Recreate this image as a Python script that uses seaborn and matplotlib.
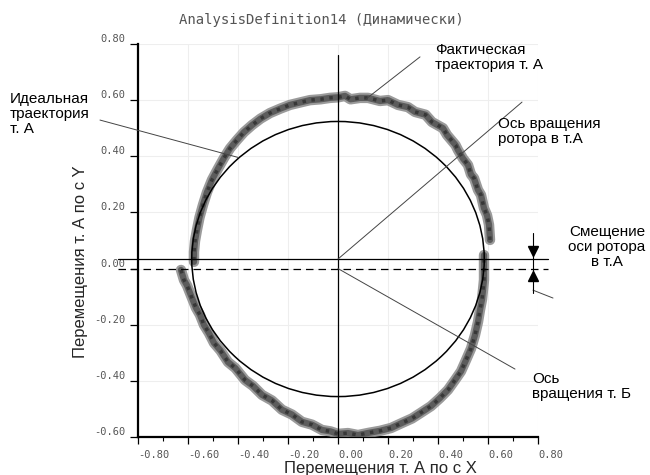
import matplotlib
matplotlib.use("Agg")
import matplotlib.pyplot as plt
import seaborn as sns
import pandas as pd
from matplotlib.patches import Ellipse

# ---------------- data ----------------
title = "AnalysisDefinition14 (Динамически)"
x_label = "Перемещения т. А по с X"
y_label = "Перемещения т. А по с Y"
x_ticks = [-0.8, -0.6, -0.4, -0.2, 0.0, 0.2, 0.4, 0.6, 0.8]
y_ticks = [-0.6, -0.4, -0.2, 0.0, 0.2, 0.4, 0.6, 0.8]

# actual trajectory (upper arc, right end -> left end)
upper_x = [0.608, 0.604, 0.596, 0.584, 0.572, 0.560, 0.544, 0.532, 0.520, 0.500,
           0.480, 0.470, 0.436, 0.420, 0.376, 0.350, 0.308, 0.280, 0.240, 0.200,
           0.168, 0.120, 0.088, 0.050, 0.028, 0.000, -0.032, -0.070, -0.112,
           -0.150, -0.192, -0.230, -0.272, -0.310, -0.344, -0.376, -0.404, -0.432,
           -0.456, -0.480, -0.504, -0.524, -0.540, -0.554, -0.564, -0.572, -0.576,
           -0.576]
upper_y = [0.102, 0.156, 0.190, 0.215, 0.262, 0.280, 0.322, 0.335, 0.369, 0.392,
           0.422, 0.440, 0.476, 0.500, 0.522, 0.548, 0.558, 0.575, 0.583, 0.600,
           0.597, 0.608, 0.608, 0.603, 0.615, 0.610, 0.608, 0.603, 0.600, 0.592,
           0.583, 0.570, 0.554, 0.534, 0.511, 0.486, 0.458, 0.428, 0.394, 0.356,
           0.316, 0.272, 0.227, 0.182, 0.138, 0.098, 0.059, 0.024]
# actual trajectory (lower arc, left end -> right end)
lower_x = [-0.628, -0.616, -0.604, -0.592, -0.568, -0.552, -0.536, -0.516, -0.496,
           -0.470, -0.440, -0.410, -0.372, -0.340, -0.304, -0.264, -0.224, -0.184,
           -0.144, -0.104, -0.064, -0.030, 0.000, 0.040, 0.080, 0.124, 0.168, 0.212,
           0.256, 0.296, 0.336, 0.372, 0.408, 0.440, 0.468, 0.492, 0.512, 0.532,
           0.548, 0.560, 0.568, 0.576, 0.580, 0.584, 0.584]
lower_y = [-0.005, -0.041, -0.060, -0.087, -0.140, -0.165, -0.201, -0.230, -0.265,
           -0.292, -0.333, -0.355, -0.397, -0.418, -0.450, -0.470, -0.503, -0.520,
           -0.546, -0.556, -0.575, -0.580, -0.589, -0.586, -0.593, -0.585, -0.578,
           -0.568, -0.550, -0.534, -0.511, -0.490, -0.461, -0.432, -0.397, -0.366,
           -0.326, -0.285, -0.237, -0.190, -0.147, -0.110, -0.076, -0.040, 0.048]

# ideal trajectory (ellipse in data units)
ideal_center = (0.0, 0.034)
ideal_width = 1.17
ideal_height = 0.98

rotor_axis_y = 0.034   # solid line: rotor axis at point A
axis_b_y = 0.0         # dashed line: rotation axis of point B
line_x_extent = [-0.88, 0.84]

# ---------------- figure ----------------
sns.set_theme(style="white")
plt.rcParams["font.family"] = ["Liberation Sans", "DejaVu Sans"]

fig = plt.figure(figsize=(6.5, 4.75), dpi=100)
ax = fig.add_axes([0.2123, 0.08, 0.6154, 0.8274])
ax.set_xlim(-0.8, 0.8)
ax.set_ylim(-0.6, 0.8)

# grid
for t in x_ticks[1:]:
    ax.axvline(t, color="#eeeeee", lw=0.8, zorder=0)
for t in y_ticks[1:]:
    ax.axhline(t, color="#eeeeee", lw=0.8, zorder=0)

# actual trajectory: thick noisy grey band
for xs, ys in [(upper_x, upper_y), (lower_x, lower_y)]:
    df = pd.DataFrame({"x": xs, "y": ys})
    sns.lineplot(data=df, x="x", y="y", sort=False, estimator=None, ax=ax,
                 color="#8a8a8a", lw=7.5, alpha=0.85, zorder=3)
    sns.lineplot(data=df, x="x", y="y", sort=False, estimator=None, ax=ax,
                 color="#555555", lw=4.5, alpha=0.9, zorder=3)
    sns.lineplot(data=df, x="x", y="y", sort=False, estimator=None, ax=ax,
                 color="#2e2e2e", lw=2.5, ls=(0, (1, 1.6)), alpha=0.8, zorder=4)

# ideal trajectory
ax.add_patch(Ellipse(ideal_center, ideal_width, ideal_height, fill=False,
                     ec="black", lw=1.1, zorder=5))

# reference lines
ax.plot([0, 0], [-0.6, 0.76], color="black", lw=0.9, zorder=5)
ax.plot(line_x_extent, [rotor_axis_y] * 2, color="black", lw=0.9, clip_on=False, zorder=5)
ax.plot(line_x_extent, [axis_b_y] * 2, color="black", lw=0.9, ls=(0, (6, 4)),
        clip_on=False, zorder=5)

# leader lines
lead = dict(color="#444444", lw=0.7, clip_on=False, zorder=6)
ax.plot([0.0, 0.736], [0.034, 0.593], **lead)      # rotor axis at A
ax.plot([0.0, 0.708], [0.0, -0.358], **lead)       # axis of B
ax.plot([-0.952, -0.40], [0.529, 0.396], **lead)   # ideal
ax.plot([0.328, 0.112], [0.754, 0.604], **lead)    # actual
ax.plot([0.78, 0.86], [-0.077, -0.105], **lead)    # offset

# offset dimension arrows
ax.plot([0.78, 0.78], [0.127, -0.087], color="black", lw=0.8, clip_on=False, zorder=6)
ax.plot([0.78], [0.063], marker="v", color="black", ms=7, clip_on=False, zorder=7)
ax.plot([0.78], [-0.028], marker="^", color="black", ms=7, clip_on=False, zorder=7)

# annotations
tkw = dict(fontsize=11, color="black", linespacing=1.1, transform=fig.transFigure)
fig.text(10 / 650, 1 - 92 / 475, "Идеальная\nтраектория\nт. А", va="top", ha="left", **tkw)
fig.text(435 / 650, 1 - 43 / 475, "Фактическая\nтраектория т. А", va="top", ha="left", **tkw)
fig.text(498 / 650, 1 - 117 / 475, "Ось вращения\nротора в т.А", va="top", ha="left", **tkw)
fig.text(532 / 650, 1 - 372 / 475, "Ось\nвращения т. Б", va="top", ha="left", **tkw)
fig.text(607 / 650, 1 - 225 / 475, "Смещение\nоси ротора\nв т.А", va="top", ha="center",
         multialignment="center", **tkw)

# title
fig.text(321 / 650, 1 - 20 / 475, title, ha="center", va="center", fontsize=10,
         color="#555555", family=["DejaVu Sans Mono"])

# axes styling
for s in ["top", "right"]:
    ax.spines[s].set_visible(False)
for s in ["left", "bottom"]:
    ax.spines[s].set_color("black")
    ax.spines[s].set_linewidth(1.6)

ax.set_xticks(x_ticks)
ax.set_xticks([-0.7, -0.5, -0.3, -0.1, 0.1, 0.3, 0.5, 0.7], minor=True)
ax.set_yticks(y_ticks)
ax.set_xticklabels([f"{t:.2f}" for t in x_ticks])
ax.set_yticklabels([f"{t:.2f}" for t in y_ticks])
ax.tick_params(axis="x", which="major", direction="out", length=5, width=0.9,
               color="black", labelsize=7.5, labelcolor="#555555", pad=4, bottom=True)
ax.tick_params(axis="x", which="minor", direction="out", length=3, width=0.8,
               color="black", bottom=True)
ax.tick_params(axis="y", direction="out", length=6, width=0.9, color="black",
               labelsize=7.5, labelcolor="#555555", pad=3, left=True)
for lab in ax.get_xticklabels():
    lab.set_horizontalalignment("left")
    lab.set_family("DejaVu Sans Mono")
for lab in ax.get_yticklabels():
    lab.set_verticalalignment("bottom")
    lab.set_family("DejaVu Sans Mono")

ax.set_xlabel("")
ax.set_ylabel("")
fig.text(380 / 650, 1 - 469 / 475, x_label, ha="center", va="center", fontsize=12)
fig.text(80 / 650, 1 - 262 / 475, y_label, ha="center", va="center", fontsize=12,
         rotation=90)

fig.savefig("out.png", dpi=100)
